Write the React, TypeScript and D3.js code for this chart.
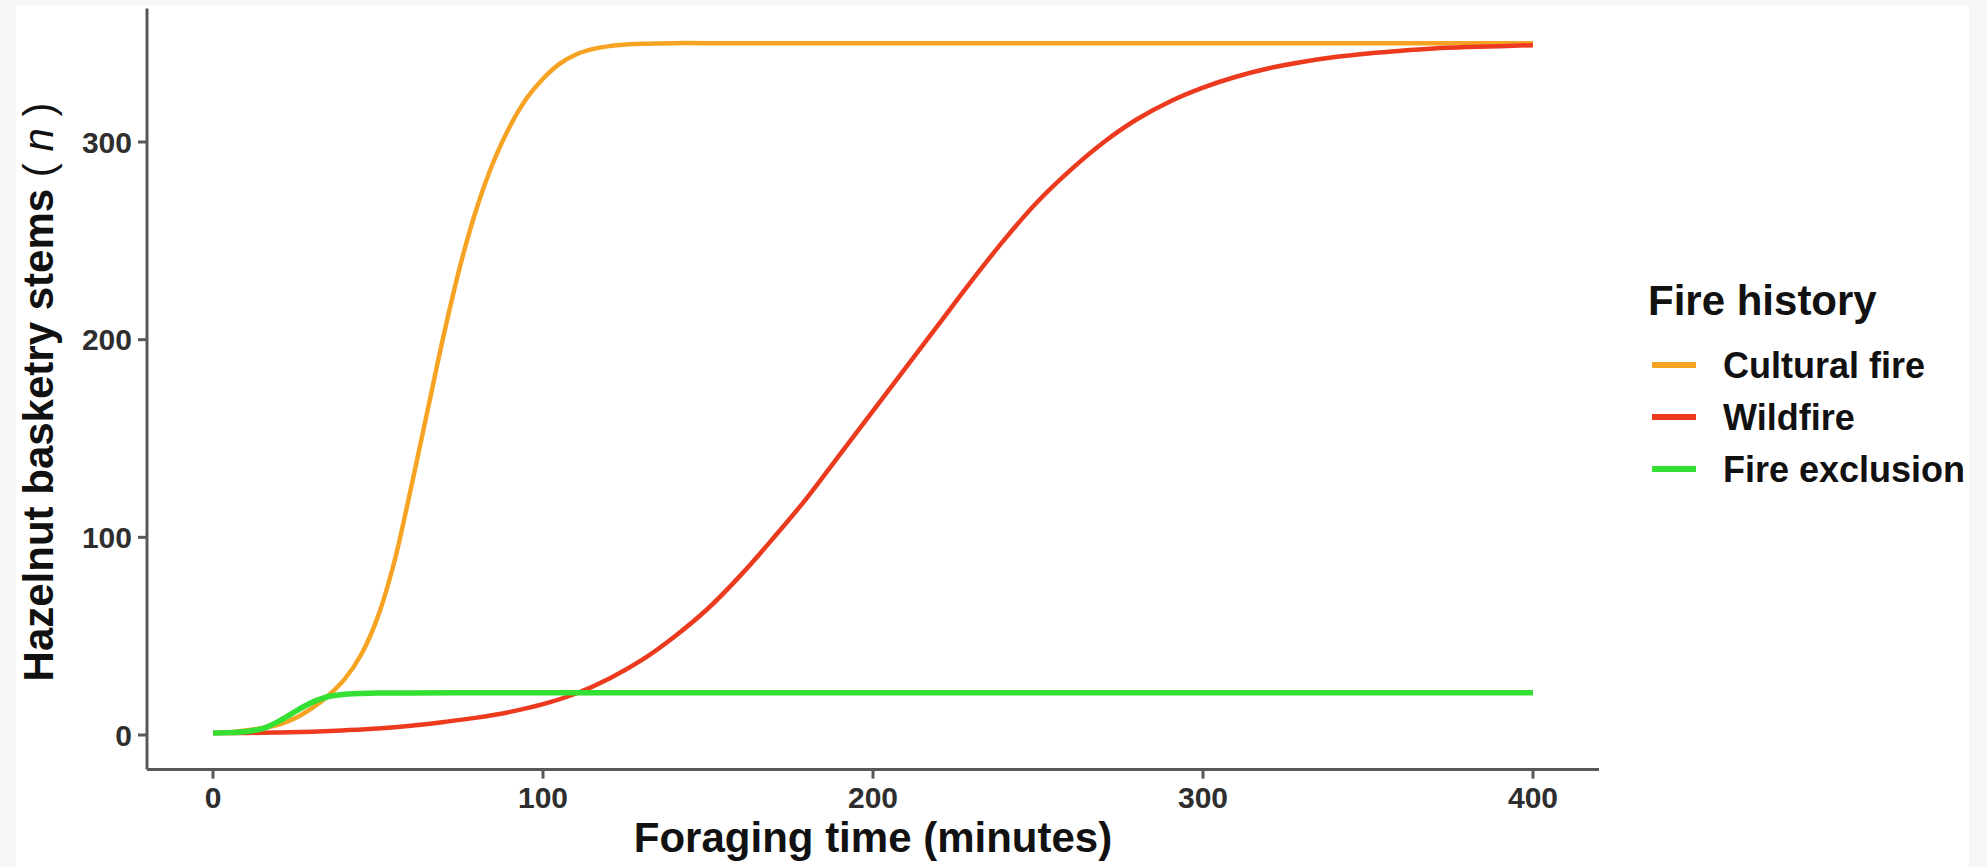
import React from "react";
import * as d3 from "d3";

const W = 1987;
const H = 867;

// Series data
const culturalT = [0, 5, 10, 15, 20, 25, 30, 35, 40, 45, 50, 55, 60, 65, 70, 75, 80, 85, 90, 95, 100, 105, 110, 115, 120, 125, 130, 140, 150, 200, 250, 300, 350, 400];
const culturalN = [1, 1.4, 2.3, 3.5, 5.3, 8.6, 13.6, 20, 28.5, 41, 60, 88, 125, 164, 203, 238, 267, 290, 308, 322, 332, 339.5, 344.3, 347, 348.5, 349.3, 349.7, 350, 350, 350, 350, 350, 350, 350];

const wildT = [0, 10, 20, 30, 40, 50, 60, 70, 80, 90, 100, 110, 120, 130, 140, 150, 160, 170, 180, 190, 200, 210, 220, 230, 240, 250, 260, 270, 280, 290, 300, 310, 320, 330, 340, 350, 360, 370, 380, 390, 400];
const wildN = [1, 1, 1.3, 1.7, 2.4, 3.3, 4.7, 6.6, 8.8, 11.7, 15.6, 21, 28.5, 38, 50, 64, 81, 100, 120, 142, 164, 186, 208, 230, 251, 270, 286, 300, 311.5, 320.5, 327.5, 333, 337.3, 340.5, 343, 344.8, 346.2, 347.3, 348, 348.5, 349];

const exclT = [0, 5, 10, 15, 20, 25, 30, 35, 40, 45, 50, 60, 80, 100, 150, 200, 300, 400];
const exclN = [1, 1.2, 1.8, 3.2, 7, 12, 16.5, 19.5, 20.6, 21, 21.2, 21.3, 21.4, 21.4, 21.4, 21.4, 21.4, 21.4];

const xTicks = [0, 100, 200, 300, 400];
const yTicks = [0, 100, 200, 300];

const seriesNames = ["Cultural fire", "Wildfire", "Fire exclusion"];
const seriesColors = ["#F6A323", "#EC3A1F", "#34E034"];

const FONT = "'Liberation Sans', Arial, Helvetica, sans-serif";

export default function App() {
  const x = d3.scaleLinear().domain([0, 400]).range([213, 1533]);
  const y = d3.scaleLinear().domain([0, 300]).range([735, 142]);

  const xMin = x(-20);
  const xMax = x(420);
  const yBottom = y(-17.5);
  const yTop = y(367.5);

  const line = d3
    .line<[number, number]>()
    .x((d) => x(d[0]))
    .y((d) => y(d[1]))
    .curve(d3.curveCatmullRom.alpha(0.5));

  const zip = (t: number[], n: number[]) => t.map((v, i) => [v, n[i]] as [number, number]);

  const series = [
    { name: seriesNames[0], color: seriesColors[0], pts: zip(culturalT, culturalN), w: 4.5 },
    { name: seriesNames[1], color: seriesColors[1], pts: zip(wildT, wildN), w: 4.5 },
    { name: seriesNames[2], color: seriesColors[2], pts: zip(exclT, exclN), w: 5.5 },
  ];

  const axisColor = "#585858";
  const tickTextColor = "#2e2e2e";

  return (
    <svg
      width={W}
      height={H}
      style={{ position: "absolute", left: 0, top: 0, display: "block" }}
      fontFamily={FONT}
    >
      <rect x={0} y={0} width={W} height={H} fill="#f7f7f7" />
      <rect x={16} y={5} width={1969 - 16} height={H - 5} fill="#ffffff" />

      {/* lines */}
      {series.map((s) => (
        <path
          key={s.name}
          d={line(s.pts) || ""}
          fill="none"
          stroke={s.color}
          strokeWidth={s.w}
          strokeLinecap="butt"
          strokeLinejoin="round"
        />
      ))}

      {/* axes */}
      <line x1={xMin} x2={xMax} y1={yBottom} y2={yBottom} stroke={axisColor} strokeWidth={3} />
      <line x1={xMin} x2={xMin} y1={yTop} y2={yBottom} stroke={axisColor} strokeWidth={3} />

      {yTicks.map((t) => (
        <g key={"y" + t}>
          <line x1={xMin - 9} x2={xMin} y1={y(t)} y2={y(t)} stroke={axisColor} strokeWidth={3} />
          <text
            x={132}
            y={y(t)}
            textAnchor="end"
            dominantBaseline="central"
            fontSize={30}
            fontWeight="bold"
            fill={tickTextColor}
          >
            {t}
          </text>
        </g>
      ))}

      {xTicks.map((t) => (
        <g key={"x" + t}>
          <line x1={x(t)} x2={x(t)} y1={yBottom} y2={yBottom + 9} stroke={axisColor} strokeWidth={3} />
          <text
            x={x(t)}
            y={797}
            textAnchor="middle"
            dominantBaseline="central"
            fontSize={30}
            fontWeight="bold"
            fill={tickTextColor}
          >
            {t}
          </text>
        </g>
      ))}

      {/* axis titles */}
      <text
        x={x(200)}
        y={852}
        textAnchor="middle"
        fontSize={42}
        fontWeight="bold"
        fill="#111"
      >
        Foraging time (minutes)
      </text>
      <text
        transform={`translate(53, 392) rotate(-90)`}
        textAnchor="middle"
        fontSize={42}
        fontWeight="bold"
        fill="#111"
      >
        Hazelnut basketry stems
        <tspan fontWeight="normal"> ( </tspan>
        <tspan fontWeight="normal" fontStyle="italic">n</tspan>
        <tspan fontWeight="normal"> )</tspan>
      </text>

      {/* legend */}
      <text x={1648} y={315} fontSize={42} fontWeight="bold" fill="#111">
        Fire history
      </text>
      {series.map((s, i) => {
        const ky = 365 + i * 52;
        return (
          <g key={"lg" + s.name}>
            <line x1={1652} x2={1696} y1={ky} y2={ky} stroke={s.color} strokeWidth={6} />
            <text x={1723} y={ky} dominantBaseline="central" fontSize={36} fontWeight="bold" fill="#111">
              {s.name}
            </text>
          </g>
        );
      })}
    </svg>
  );
}
